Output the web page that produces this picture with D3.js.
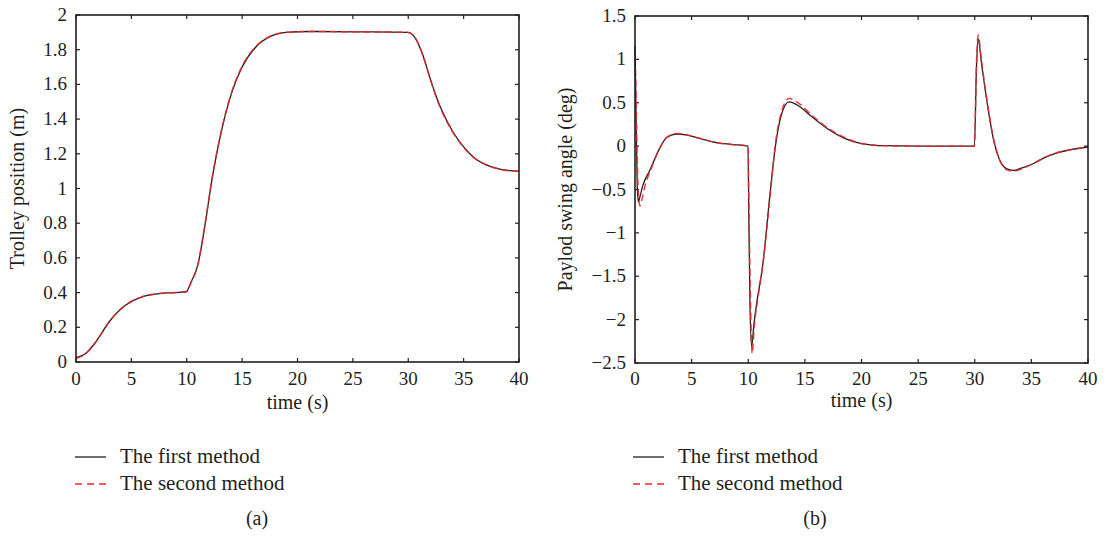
<!DOCTYPE html>
<html lang="en">
<head>
  <meta charset="utf-8" />
  <title>Trolley position and payload swing angle</title>
  <script src="https://d3js.org/d3.v7.min.js"></script>
  <style>
    body { margin: 0; background: #fff; }
    svg text { font-family: "Liberation Serif", "Times New Roman", serif; fill: #231f20; }
  </style>
</head>
<body>
  <svg id="chart" width="1106" height="537"></svg>
  <script>
    // (a) trolley position, both methods sampled at the same times
    const timeA = [0, 0.9, 1.8, 3.0, 4.5, 6.0, 7.5, 9.0, 9.95, 10.4, 11.0, 11.6, 12.3, 13.2, 14.1, 15.0, 16.3, 17.5, 19.0, 21.0, 25.0, 29.95,
                   30.6, 31.2, 32.0, 32.5, 33.0, 34.0, 35.0, 36.0, 37.0, 38.0, 39.0, 40.0];
    const posFirst = [0.025, 0.05, 0.117, 0.232, 0.328, 0.376, 0.394, 0.4, 0.405, 0.463, 0.56, 0.77, 1.06, 1.35, 1.56, 1.70, 1.82, 1.875, 1.90, 1.905, 1.903, 1.9,
                      1.87, 1.79, 1.63, 1.535, 1.455, 1.33, 1.24, 1.175, 1.138, 1.116, 1.104, 1.10];
    const posSecond = [0.02, 0.05, 0.115, 0.232, 0.33, 0.377, 0.395, 0.4, 0.404, 0.46, 0.56, 0.775, 1.065, 1.355, 1.565, 1.705, 1.822, 1.876, 1.90, 1.905, 1.903, 1.9,
                       1.872, 1.79, 1.627, 1.53, 1.45, 1.326, 1.237, 1.173, 1.137, 1.115, 1.103, 1.10];

    // (b) payload swing angle
    const timeB1 = [0, 0.1, 0.2, 0.29, 0.4, 0.7, 1.3, 2.2, 2.8, 3.7, 4.5, 5.7, 7.2, 8.5, 9.98,
                    10.05, 10.15, 10.3, 10.5, 10.7, 11.3, 11.9, 12.4, 12.9, 13.6, 14.5, 15.5, 17.0, 18.5, 20.0, 22.0, 25.0, 29.97,
                    30.15, 30.3, 30.6, 31.2, 31.7, 32.2, 32.8, 33.4, 34.2, 35.2, 36.2, 37.2, 38.5, 40.0];
    const angFirst = [1.15, 0.3, -0.45, -0.64, -0.6, -0.45, -0.28, -0.02, 0.1, 0.14, 0.13, 0.09, 0.04, 0.02, 0.0,
                      -0.8, -1.8, -2.31, -2.05, -1.85, -1.35, -0.58, 0.0, 0.35, 0.51, 0.46, 0.35, 0.2, 0.09, 0.03, 0.005, 0.0, 0.0,
                      0.9, 1.24, 0.95, 0.41, 0.05, -0.16, -0.26, -0.28, -0.25, -0.2, -0.13, -0.08, -0.04, -0.01];
    const timeB2 = [0, 0.1, 0.25, 0.44, 0.6, 0.9, 1.4, 2.2, 2.8, 3.7, 4.5, 5.7, 7.2, 8.5, 9.98,
                    10.05, 10.2, 10.35, 10.55, 10.8, 11.35, 11.95, 12.4, 12.9, 13.6, 14.5, 15.5, 17.0, 18.5, 20.0, 22.0, 25.0, 29.97,
                    30.15, 30.3, 30.6, 31.2, 31.7, 32.2, 32.8, 33.4, 34.2, 35.2, 36.2, 37.2, 38.5, 40.0];
    const angSecond = [1.15, 0.5, -0.4, -0.69, -0.62, -0.45, -0.27, -0.02, 0.1, 0.145, 0.13, 0.09, 0.04, 0.02, 0.0,
                       -0.6, -1.8, -2.39, -2.05, -1.8, -1.3, -0.55, 0.03, 0.38, 0.55, 0.49, 0.37, 0.21, 0.1, 0.03, 0.005, 0.0, 0.0,
                       0.95, 1.28, 0.98, 0.43, 0.06, -0.16, -0.27, -0.29, -0.26, -0.2, -0.13, -0.08, -0.04, -0.01];

    const xTicks = [0, 5, 10, 15, 20, 25, 30, 35, 40];
    const yTicksA = [0, 0.2, 0.4, 0.6, 0.8, 1, 1.2, 1.4, 1.6, 1.8, 2];
    const yTicksB = [-2.5, -2, -1.5, -1, -0.5, 0, 0.5, 1, 1.5];
    const legendLabels = ["The first method", "The second method"];

    const ink = "#231f20";
    const red = "#e8282b";
    const svg = d3.select("#chart");

    function fmt(v) {
      return String(v).replace("-", "\u2212");
    }

    function panel(opt) {
      const x = d3.scaleLinear().domain([0, 40]).range([opt.left, opt.right]);
      const y = d3.scaleLinear().domain(opt.yDomain).range([opt.bottom, opt.top]);
      const g = svg.append("g");
      const tk = 4;

      // inward ticks on all four sides
      xTicks.forEach(t => {
        g.append("line").attr("x1", x(t)).attr("x2", x(t)).attr("y1", opt.bottom).attr("y2", opt.bottom - tk)
          .attr("stroke", ink).attr("stroke-width", 1.2);
        g.append("line").attr("x1", x(t)).attr("x2", x(t)).attr("y1", opt.top).attr("y2", opt.top + tk)
          .attr("stroke", ink).attr("stroke-width", 1.2);
        g.append("text").attr("x", x(t)).attr("y", 385).attr("text-anchor", "middle")
          .attr("font-size", 19).text(t);
      });
      opt.yTicks.forEach(t => {
        g.append("line").attr("x1", opt.left).attr("x2", opt.left + tk).attr("y1", y(t)).attr("y2", y(t))
          .attr("stroke", ink).attr("stroke-width", 1.2);
        g.append("line").attr("x1", opt.right).attr("x2", opt.right - tk).attr("y1", y(t)).attr("y2", y(t))
          .attr("stroke", ink).attr("stroke-width", 1.2);
        g.append("text").attr("x", opt.left - 9).attr("y", y(t) + 6).attr("text-anchor", "end")
          .attr("font-size", 19).text(fmt(t));
      });

      const line = d3.line().x(d => x(d[0])).y(d => y(d[1])).curve(d3.curveMonotoneX);
      const s1 = opt.t1.map((t, i) => [t, opt.v1[i]]);
      const s2 = opt.t2.map((t, i) => [t, opt.v2[i]]);
      g.append("path").attr("d", line(s1)).attr("fill", "none").attr("stroke", ink).attr("stroke-width", 1.3);
      g.append("path").attr("d", line(s2)).attr("fill", "none").attr("stroke", red).attr("stroke-width", 1.5)
        .attr("stroke-dasharray", "7,4").attr("stroke-opacity", 0.9);

      g.append("rect").attr("x", opt.left).attr("y", opt.top)
        .attr("width", opt.right - opt.left).attr("height", opt.bottom - opt.top)
        .attr("fill", "none").attr("stroke", ink).attr("stroke-width", 1.6);

      // axis titles
      g.append("text").attr("x", (opt.left + opt.right) / 2).attr("y", opt.xLabelY)
        .attr("text-anchor", "middle").attr("font-size", 20).text("time (s)");
      g.append("text").attr("transform", `translate(${opt.yLabelX},${(opt.top + opt.bottom) / 2}) rotate(-90)`)
        .attr("text-anchor", "middle").attr("font-size", 20).text(opt.yLabel);

      // legend
      legendLabels.forEach((lab, i) => {
        const ly = 457 + i * 27;
        g.append("line").attr("x1", opt.legendX).attr("x2", opt.legendX + 31).attr("y1", ly).attr("y2", ly)
          .attr("stroke", i === 0 ? ink : red).attr("stroke-width", 1.3)
          .attr("stroke-dasharray", i === 0 ? null : "7,5");
        g.append("text").attr("x", opt.legendX + 45).attr("y", ly + 6).attr("font-size", 21).text(lab);
      });
      g.append("text").attr("x", opt.capX).attr("y", 525).attr("text-anchor", "middle")
        .attr("font-size", 20).text(opt.caption);
    }

    panel({
      left: 76, right: 519, top: 15, bottom: 362, yDomain: [0, 2], yTicks: yTicksA,
      t1: timeA, v1: posFirst, t2: timeA, v2: posSecond,
      yLabel: "Trolley position (m)", yLabelX: 24, xLabelY: 409,
      legendX: 75, capX: 257, caption: "(a)"
    });
    panel({
      left: 635, right: 1088, top: 16, bottom: 363, yDomain: [-2.5, 1.5], yTicks: yTicksB,
      t1: timeB1, v1: angFirst, t2: timeB2, v2: angSecond,
      yLabel: "Paylod swing angle (deg)", yLabelX: 572, xLabelY: 407,
      legendX: 633, capX: 815, caption: "(b)"
    });
  </script>
</body>
</html>
